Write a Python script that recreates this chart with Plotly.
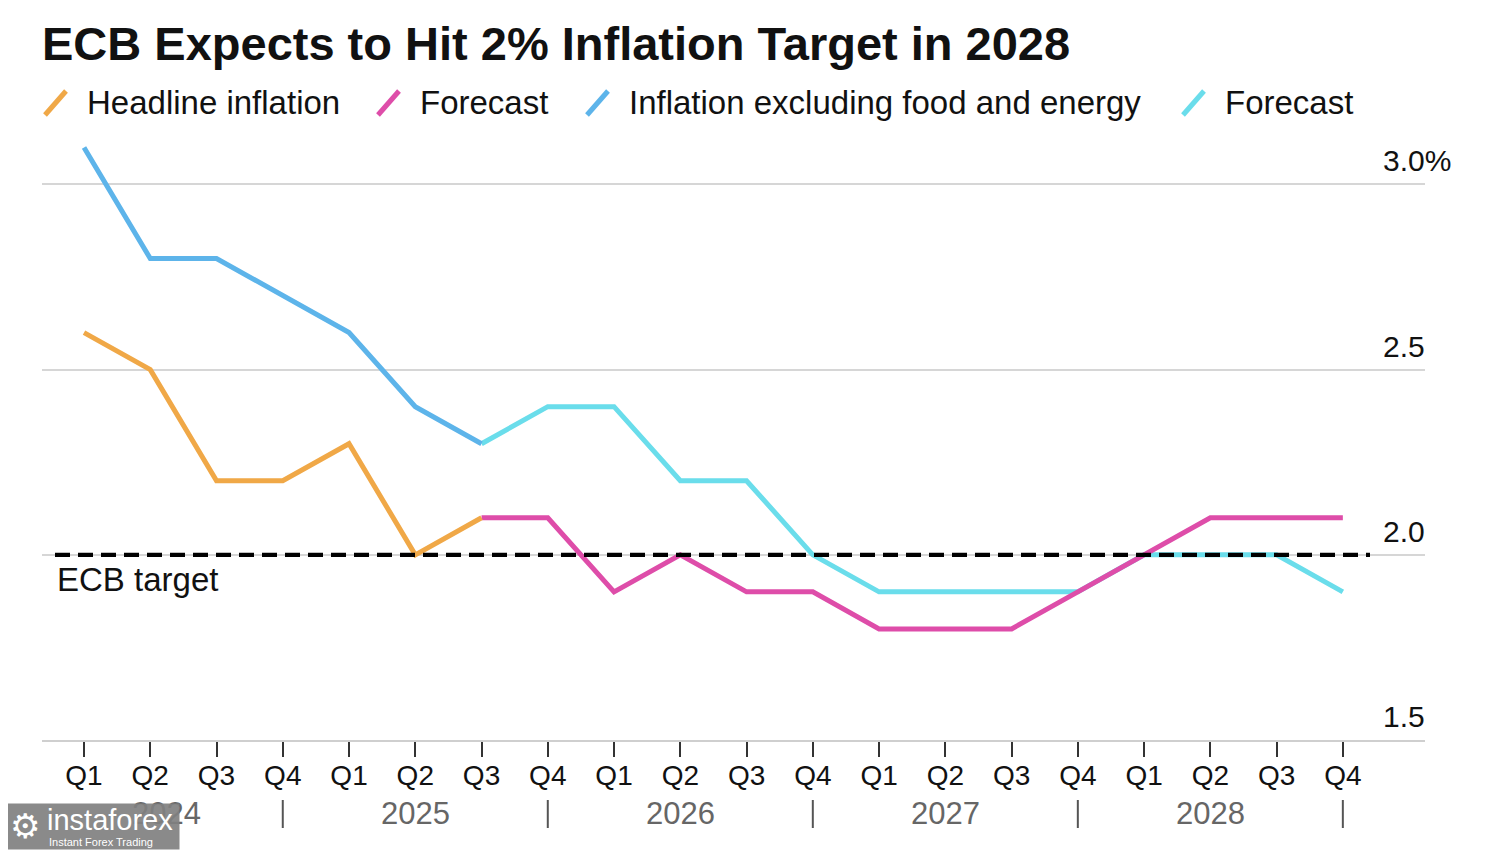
import plotly.graph_objects as go

# ---------------- data ----------------
quarters = ["Q1", "Q2", "Q3", "Q4"] * 5
years = ["2024", "2025", "2026", "2027", "2028"]

headline = [2.6, 2.5, 2.2, 2.2, 2.3, 2.0, 2.1]                      # Q1'24 .. Q3'25
headline_fc = [2.1, 2.1, 1.9, 2.0, 1.9, 1.9, 1.8, 1.8, 1.8, 1.9,
               2.0, 2.1, 2.1, 2.1]                                   # Q3'25 .. Q4'28
core = [3.1, 2.8, 2.8, 2.7, 2.6, 2.4, 2.3]                          # Q1'24 .. Q3'25
core_fc = [2.3, 2.4, 2.4, 2.2, 2.2, 2.0, 1.9, 1.9, 1.9, 1.9,
           2.0, 2.0, 2.0, 1.9]                                       # Q3'25 .. Q4'28
ecb_target = 2.0
y_ticks = [1.5, 2.0, 2.5, 3.0]
y_tick_text = ["1.5", "2.0", "2.5", "3.0%"]

legend_names = ["Headline inflation", "Forecast",
                "Inflation excluding food and energy", "Forecast"]

# ---------------- styling ----------------
C_HEAD = "#F0A847"
C_HEAD_FC = "#DE4DA9"
C_CORE = "#5DB4EA"
C_CORE_FC = "#6ADDEB"
FONT = "Liberation Sans, Arial, sans-serif"

OFF = 8                      # page body margin of the browser
W, H = 1500 - OFF, 850 - OFF
L, R, T, B = 34, 75, 132, 110
PW, PH = W - L - R, H - T - B


def px_x(px):
    """page pixel x -> paper coordinate"""
    return (px - OFF - L) / PW


def px_y(py):
    """page pixel y -> paper coordinate"""
    return (H - B - (py - OFF)) / PH


idx = list(range(len(quarters)))
n_hist = len(headline)
fc_idx = idx[n_hist - 1:]
x_min, x_max = -0.634, 20.24

fig = go.Figure()
fig.add_trace(go.Scatter(x=fc_idx, y=core_fc, mode="lines",
                         line=dict(color=C_CORE_FC, width=5), showlegend=False))
fig.add_trace(go.Scatter(x=idx[:n_hist], y=core, mode="lines",
                         line=dict(color=C_CORE, width=5), showlegend=False))
fig.add_trace(go.Scatter(x=fc_idx, y=headline_fc, mode="lines",
                         line=dict(color=C_HEAD_FC, width=5), showlegend=False))
fig.add_trace(go.Scatter(x=idx[:n_hist], y=headline, mode="lines",
                         line=dict(color=C_HEAD, width=5), showlegend=False))

shapes = []
annotations = []

# ECB target dashed line
shapes.append(dict(type="line", xref="paper", yref="y",
                   x0=px_x(55), x1=px_x(1370), y0=ecb_target, y1=ecb_target,
                   line=dict(color="black", width=4.2, dash="15px,8px"),
                   layer="above"))
annotations.append(dict(text="ECB target", xref="paper", yref="y",
                        x=px_x(55), y=ecb_target, xanchor="left", yanchor="top",
                        yshift=-4, showarrow=False,
                        font=dict(family=FONT, size=33, color="#111")))

# Right-side y labels
for v, t in zip(y_ticks, y_tick_text):
    annotations.append(dict(text=t, xref="paper", yref="y", x=px_x(1381), y=v,
                            xanchor="left", yanchor="bottom", yshift=5,
                            showarrow=False,
                            font=dict(family=FONT, size=30, color="#111")))

# Year separators and year labels
q4_idx = [i for i, q in zip(idx, quarters) if q == "Q4"]
for i in q4_idx:
    shapes.append(dict(type="line", xref="x", yref="paper", x0=i, x1=i,
                       y0=px_y(800), y1=px_y(828),
                       line=dict(color="#555", width=2)))
bounds = [-0.5] + q4_idx
for k, yr in enumerate(years):
    xc = (bounds[k] + bounds[k + 1]) / 2
    annotations.append(dict(text=yr, xref="x", yref="paper", x=xc, y=px_y(813),
                            xanchor="center", yanchor="middle", showarrow=False,
                            font=dict(family=FONT, size=31, color="#666")))

# Custom legend
legend_colors = [C_HEAD, C_HEAD_FC, C_CORE, C_CORE_FC]
legend_x = [45, 378, 587, 1183]
for name, col, lx in zip(legend_names, legend_colors, legend_x):
    shapes.append(dict(type="line", xref="paper", yref="paper",
                       x0=px_x(lx), y0=px_y(115), x1=px_x(lx + 21), y1=px_y(91),
                       line=dict(color=col, width=5)))
    annotations.append(dict(text=name, xref="paper", yref="paper",
                            x=px_x(lx + 40), y=px_y(103),
                            xanchor="left", yanchor="middle", showarrow=False,
                            font=dict(family=FONT, size=33, color="#111")))

# Watermark box (drawn over the year labels, like the reference)
annotations.append(dict(text=" ", xref="paper", yref="paper",
                        x=px_x(0), y=px_y(850), xanchor="left", yanchor="bottom",
                        width=178, height=45, bgcolor="rgba(128,128,128,0.92)",
                        borderpad=0, showarrow=False,
                        font=dict(family=FONT, size=10, color="white")))
annotations.append(dict(text="\u2699", xref="paper", yref="paper",
                        x=px_x(25), y=px_y(826), xanchor="center", yanchor="middle",
                        showarrow=False,
                        font=dict(family="DejaVu Sans", size=34, color="white")))
annotations.append(dict(text="instaforex", xref="paper", yref="paper",
                        x=px_x(45), y=px_y(820), xanchor="left", yanchor="middle",
                        showarrow=False,
                        font=dict(family=FONT, size=29, color="white")))
annotations.append(dict(text="Instant Forex Trading", xref="paper", yref="paper",
                        x=px_x(47), y=px_y(842), xanchor="left", yanchor="middle",
                        showarrow=False,
                        font=dict(family=FONT, size=11, color="white")))

# Title (left-aligned at the plot's left edge)
annotations.append(dict(text="<b>ECB Expects to Hit 2% Inflation Target in 2028</b>",
                        xref="paper", yref="paper", x=px_x(40), y=px_y(43),
                        xanchor="left", yanchor="middle", showarrow=False,
                        font=dict(family=FONT, size=47, color="#111")))

fig.update_layout(
    width=W, height=H,
    margin=dict(l=L, r=R, t=T, b=B, pad=0),
    paper_bgcolor="white", plot_bgcolor="white",
    xaxis=dict(range=[x_min, x_max], tickmode="array", tickvals=idx,
               ticktext=quarters, ticks="outside", ticklen=15, tickwidth=2,
               tickcolor="#333", ticklabelstandoff=-6,
               showgrid=False, zeroline=False,
               showline=True, linecolor="#cfcfcf", linewidth=2,
               tickfont=dict(family=FONT, size=28, color="#111")),
    yaxis=dict(range=[1.5, 3.12], tickmode="array", tickvals=y_ticks,
               showticklabels=False, showgrid=True, gridcolor="#d6d6d6",
               gridwidth=2, zeroline=False, showline=False),
    shapes=shapes,
    annotations=annotations,
    showlegend=False,
)

fig.write_html("out.html")
